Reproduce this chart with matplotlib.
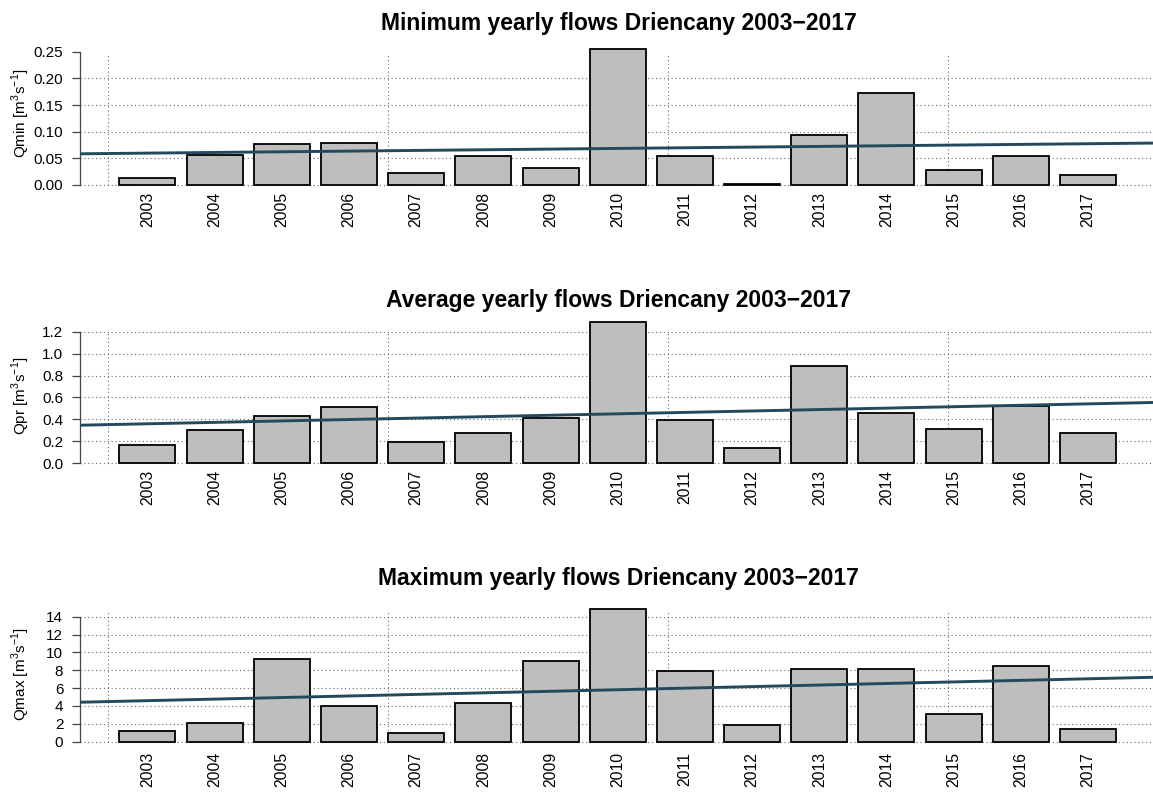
import numpy as np
import matplotlib
matplotlib.use("Agg")
import matplotlib.pyplot as plt

plt.rcParams["font.family"] = ["Liberation Sans", "DejaVu Sans"]
plt.rcParams["mathtext.fontset"] = "custom"
plt.rcParams["mathtext.rm"] = "Liberation Sans"

# Yearly discharge at Driencany, 2003-2017
years = [2003, 2004, 2005, 2006, 2007, 2008, 2009, 2010,
         2011, 2012, 2013, 2014, 2015, 2016, 2017]
q_min = [0.013, 0.056, 0.076, 0.079, 0.023, 0.055, 0.031, 0.255,
         0.055, 0.002, 0.093, 0.172, 0.029, 0.055, 0.018]
q_avg = [0.170, 0.306, 0.428, 0.513, 0.197, 0.273, 0.416, 1.290,
         0.395, 0.142, 0.890, 0.456, 0.313, 0.525, 0.273]
q_max = [1.23, 2.06, 9.29, 4.03, 0.94, 4.37, 9.04, 14.83,
         7.95, 1.87, 8.17, 8.14, 3.07, 8.44, 1.46]

titles = ["Minimum yearly flows Driencany 2003\u22122017",
          "Average yearly flows Driencany 2003\u22122017",
          "Maximum yearly flows Driencany 2003\u22122017"]
ylabels = [r"Qmin [m$^\mathregular{3}$s$^\mathregular{-1}$]",
           r"Qpr [m$^\mathregular{3}$s$^\mathregular{-1}$]",
           r"Qmax [m$^\mathregular{3}$s$^\mathregular{-1}$]"]
yticks = [[0.00, 0.05, 0.10, 0.15, 0.20, 0.25],
          [0.0, 0.2, 0.4, 0.6, 0.8, 1.0, 1.2],
          [0, 2, 4, 6, 8, 10, 12, 14]]
ytick_fmt = ["{:.2f}", "{:.1f}", "{:.0f}"]
grid_y = [[0.00, 0.05, 0.10, 0.15, 0.20],
          [0.0, 0.2, 0.4, 0.6, 0.8, 1.0, 1.2],
          [0, 2, 4, 6, 8, 10, 12, 14]]

W, H = 1153, 807
fig = plt.figure(figsize=(W / 100, H / 100), dpi=100)

# panel geometry in pixels: baseline row, pixels per data unit, top of grid
panels = [
    dict(y0=185.0, ppu=533.0, vtop=0.245, title_y=30, lab_y=113.5, lab_top=197),
    dict(y0=463.3, ppu=109.7, vtop=1.21, title_y=306.7, lab_y=396, lab_top=475),
    dict(y0=741.7, ppu=8.93, vtop=14.56, title_y=585, lab_y=674.5, lab_top=757),
]
datasets = [q_min, q_avg, q_max]

unit_px = 56.0          # width of one bar in pixels
x0_px = 108.1           # pixel column of bar-coordinate 0
left_px, right_px = 80.0, 1153.0
xlim = ((left_px - x0_px) / unit_px, (right_px - x0_px) / unit_px)

n = len(years)
centers = 0.7 + 1.2 * np.arange(n)
order = np.arange(1, n + 1)
grid_col = "#6a6a6a"
dot = (0, (1, 2.5))

for k, (p, vals) in enumerate(zip(panels, datasets)):
    vals = np.asarray(vals)
    ytop_val = max(vals.max(), yticks[k][-1]) * 1.04
    ylo_val = -6.0 / p["ppu"]
    top_px = p["y0"] - ytop_val * p["ppu"]
    bot_px = p["y0"] - ylo_val * p["ppu"]
    ax = fig.add_axes([left_px / W, 1 - bot_px / H,
                       (right_px - left_px) / W, (bot_px - top_px) / H])
    ax.set_xlim(*xlim)
    ax.set_ylim(ylo_val, ytop_val)
    ax.patch.set_visible(False)

    # dotted grid behind the bars
    ax.hlines(grid_y[k], xlim[0], xlim[1], colors=grid_col, linewidth=0.8,
              linestyles=[dot], zorder=1)
    ax.vlines([0, 5, 10, 15], 0, p["vtop"], colors=grid_col, linewidth=0.8,
              linestyles=[dot], zorder=1)

    ax.bar(centers, vals, width=1.0, color="#bebebe", edgecolor="black",
           linewidth=1.3, zorder=2, clip_on=False)

    # linear trend of the series against its running number (1..n),
    # laid over the bar coordinate system
    slope, icpt = np.polyfit(order, vals, 1)
    xs = np.array(xlim)
    ax.plot(xs, icpt + slope * xs, color="#24495c", linewidth=2.1,
            zorder=3, solid_capstyle="butt")

    for s in ["top", "right", "bottom"]:
        ax.spines[s].set_visible(False)
    ax.spines["left"].set_bounds(yticks[k][0], yticks[k][-1])
    ax.spines["left"].set_color("#444444")
    ax.spines["left"].set_linewidth(0.9)
    ax.set_yticks(yticks[k])
    ax.set_yticklabels([ytick_fmt[k].format(v) for v in yticks[k]], fontsize=11)
    ax.tick_params(axis="y", direction="out", length=6, width=0.9,
                   color="#444444", pad=6)

    ax.set_xticks(centers)
    pad_pt = max(p["lab_top"] - bot_px - 5, 0) * 0.72
    ax.set_xticklabels([str(y) for y in years], rotation=90, fontsize=11.3)
    ax.tick_params(axis="x", length=0, pad=pad_pt)

    fig.text(618.5 / W, 1 - p["title_y"] / H, titles[k], ha="center",
             va="baseline", fontsize=16.5, fontweight="bold")
    fig.text(26 / W, 1 - p["lab_y"] / H, ylabels[k], rotation=90,
             rotation_mode="anchor", ha="center", va="baseline", fontsize=11)

fig.savefig("out.png", dpi=100)
